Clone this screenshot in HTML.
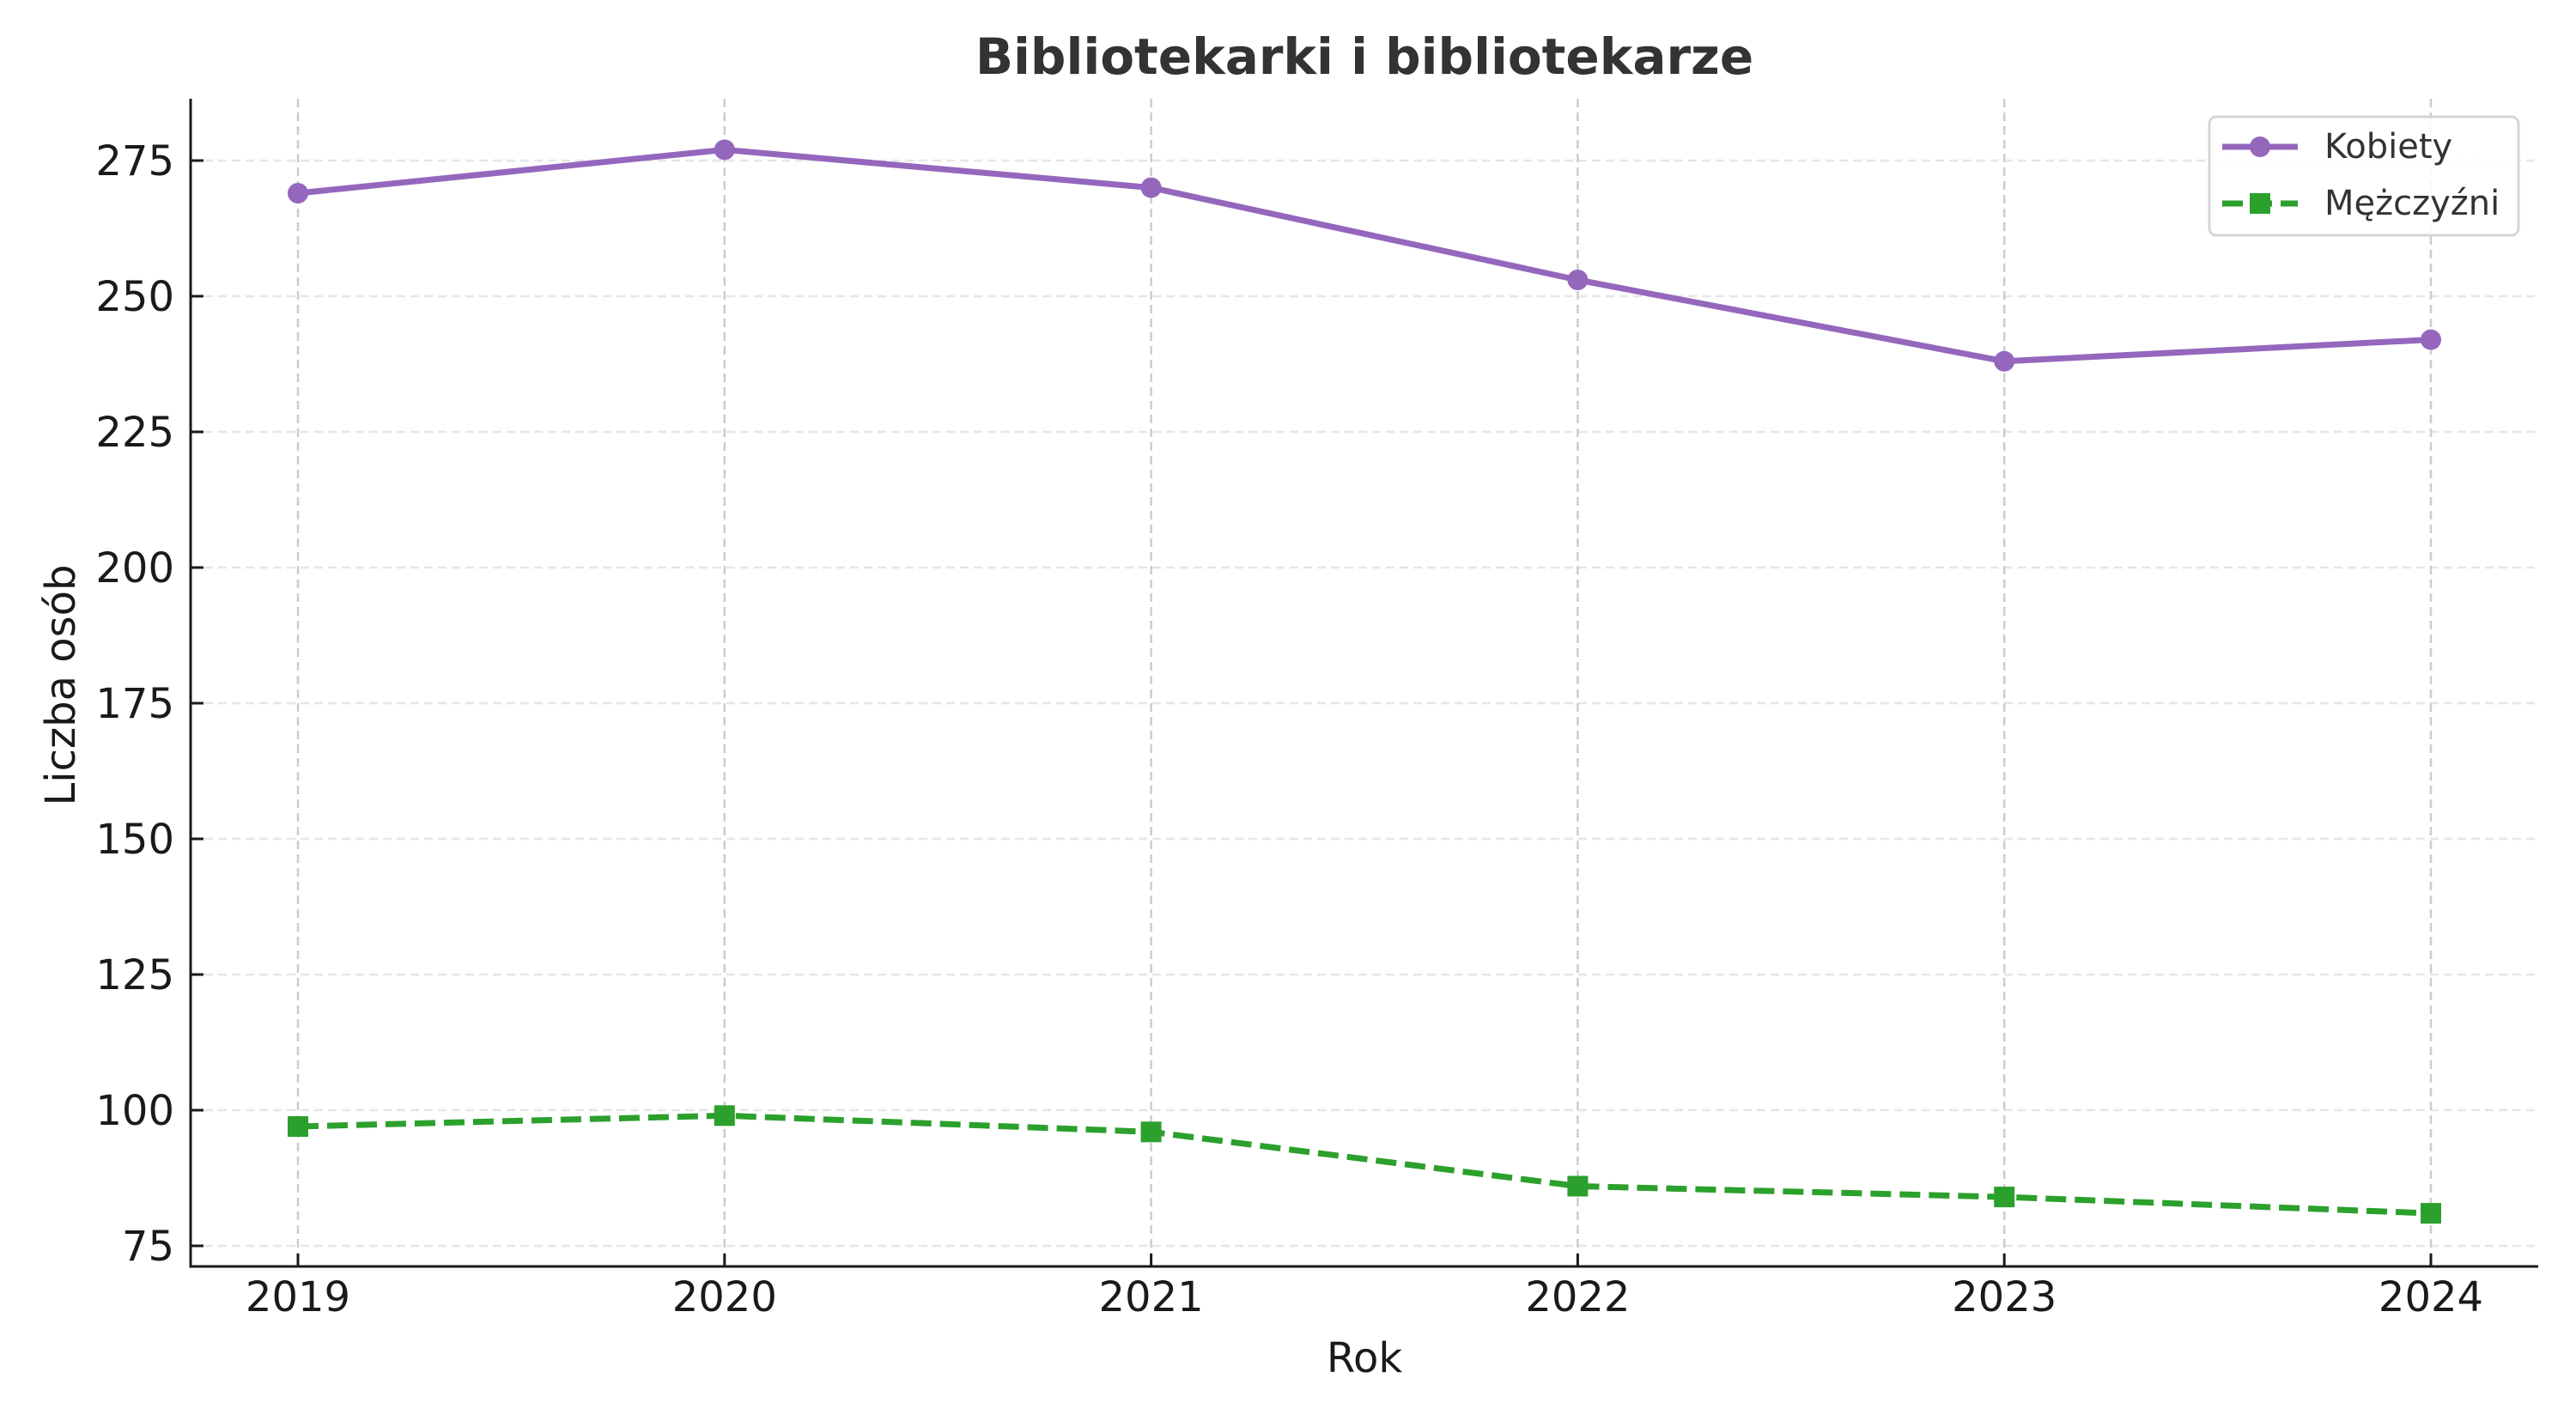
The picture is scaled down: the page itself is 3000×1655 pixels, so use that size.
<!DOCTYPE html>
<html><head><meta charset="utf-8"><style>html,body{margin:0;padding:0;background:#fff}</style></head>
<body>
<svg width="3000" height="1650" xmlns="http://www.w3.org/2000/svg" font-family="DejaVu Sans, Liberation Sans, sans-serif">
<rect width="3000" height="1650" fill="#fff"/>
<g stroke="#e6e6e6" stroke-width="2.5" stroke-dasharray="10,6">
<line x1="222" x2="2956" y1="1451" y2="1451"/><line x1="222" x2="2956" y1="1293" y2="1293"/>
<line x1="222" x2="2956" y1="1135" y2="1135"/><line x1="222" x2="2956" y1="977" y2="977"/>
<line x1="222" x2="2956" y1="819" y2="819"/><line x1="222" x2="2956" y1="661" y2="661"/>
<line x1="222" x2="2956" y1="503" y2="503"/><line x1="222" x2="2956" y1="345" y2="345"/>
<line x1="222" x2="2956" y1="187" y2="187"/>
</g>
<g stroke="#cccccc" stroke-width="2.5" stroke-dasharray="10,6">
<line x1="347" x2="347" y1="115" y2="1475"/><line x1="843.8" x2="843.8" y1="115" y2="1475"/>
<line x1="1340.6" x2="1340.6" y1="115" y2="1475"/><line x1="1837.4" x2="1837.4" y1="115" y2="1475"/>
<line x1="2334.2" x2="2334.2" y1="115" y2="1475"/><line x1="2831" x2="2831" y1="115" y2="1475"/>
</g>
<g stroke="#1a1a1a" stroke-width="3">
<line x1="222" x2="222" y1="115" y2="1476.5"/><line x1="220.5" x2="2956" y1="1475" y2="1475"/>
<line x1="222" x2="237" y1="1451" y2="1451"/><line x1="222" x2="237" y1="1293" y2="1293"/>
<line x1="222" x2="237" y1="1135" y2="1135"/><line x1="222" x2="237" y1="977" y2="977"/>
<line x1="222" x2="237" y1="819" y2="819"/><line x1="222" x2="237" y1="661" y2="661"/>
<line x1="222" x2="237" y1="503" y2="503"/><line x1="222" x2="237" y1="345" y2="345"/>
<line x1="222" x2="237" y1="187" y2="187"/>
<line x1="347" x2="347" y1="1460" y2="1475"/><line x1="843.8" x2="843.8" y1="1460" y2="1475"/>
<line x1="1340.6" x2="1340.6" y1="1460" y2="1475"/><line x1="1837.4" x2="1837.4" y1="1460" y2="1475"/>
<line x1="2334.2" x2="2334.2" y1="1460" y2="1475"/><line x1="2831" x2="2831" y1="1460" y2="1475"/>
</g>
<g font-size="48" fill="#1a1a1a" text-anchor="end">
<text x="203" y="1468">75</text><text x="203" y="1310">100</text><text x="203" y="1152">125</text>
<text x="203" y="994">150</text><text x="203" y="836">175</text><text x="203" y="678">200</text>
<text x="203" y="520">225</text><text x="203" y="362">250</text><text x="203" y="204">275</text>
</g>
<g font-size="48" fill="#1a1a1a" text-anchor="middle">
<text x="347" y="1527">2019</text><text x="843.8" y="1527">2020</text><text x="1340.6" y="1527">2021</text>
<text x="1837.4" y="1527">2022</text><text x="2334.2" y="1527">2023</text><text x="2831" y="1527">2024</text>
<text x="1589" y="1598">Rok</text>
<text x="1589" y="86" font-size="58" font-weight="bold" fill="#333">Bibliotekarki i bibliotekarze</text>
<text transform="translate(87,798) rotate(-90)">Liczba osób</text>
</g>
<polyline fill="none" stroke="#9467bd" stroke-width="7" stroke-linejoin="round" points="347,225 843.8,174.4 1340.6,218.6 1837.4,326 2334.2,420.8 2831,395.6"/>
<g fill="#9467bd"><circle cx="347" cy="225" r="12"/><circle cx="843.8" cy="174.4" r="12"/><circle cx="1340.6" cy="218.6" r="12"/><circle cx="1837.4" cy="326" r="12"/><circle cx="2334.2" cy="420.8" r="12"/><circle cx="2831" cy="395.6" r="12"/></g>
<polyline fill="none" stroke="#2ca02c" stroke-width="7" stroke-dasharray="24,10" points="347,1312 843.8,1299.3 1340.6,1318.3 1837.4,1381.5 2334.2,1394.1 2831,1413.1"/>
<g fill="#2ca02c"><rect x="335" y="1300" width="24" height="24"/><rect x="831.8" y="1287.3" width="24" height="24"/><rect x="1328.6" y="1306.3" width="24" height="24"/><rect x="1825.4" y="1369.5" width="24" height="24"/><rect x="2322.2" y="1382.1" width="24" height="24"/><rect x="2819" y="1401.1" width="24" height="24"/></g>
<rect x="2573" y="136" width="360" height="138" rx="8" fill="#fff" fill-opacity="0.85" stroke="#d5d5d5" stroke-width="3"/>
<line x1="2588" x2="2676" y1="171" y2="171" stroke="#9467bd" stroke-width="7"/><circle cx="2632" cy="171" r="12" fill="#9467bd"/>
<line x1="2588" x2="2676" y1="237" y2="237" stroke="#2ca02c" stroke-width="7" stroke-dasharray="24,10"/><rect x="2620" y="225" width="24" height="24" fill="#2ca02c"/>
<g font-size="40" fill="#333"><text x="2707" y="184">Kobiety</text><text x="2707" y="250">Mężczyźni</text></g>
</svg>
</body></html>
